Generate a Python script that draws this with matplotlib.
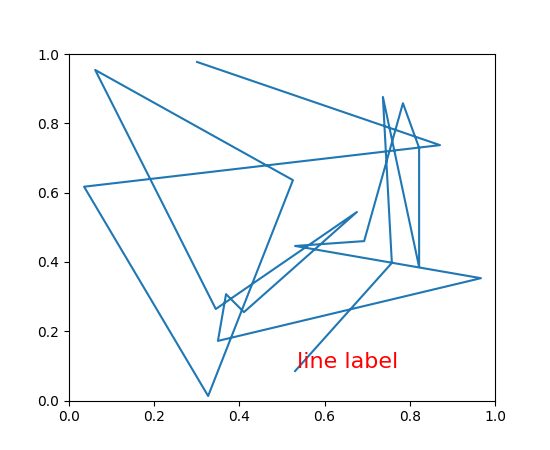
import matplotlib
matplotlib.use('Agg')
import matplotlib.pyplot as plt

x = [0.301, 0.871, 0.036, 0.327, 0.526, 0.062, 0.345, 0.676, 0.411, 0.369,
     0.350, 0.967, 0.531, 0.693, 0.784, 0.822, 0.822, 0.737, 0.758, 0.531]
y = [0.977, 0.737, 0.617, 0.013, 0.636, 0.954, 0.264, 0.544, 0.255, 0.307,
     0.172, 0.353, 0.446, 0.460, 0.858, 0.729, 0.385, 0.876, 0.397, 0.085]
label = 'line label'
label_xy = (0.536, 0.093)

fig, ax = plt.subplots(figsize=(5.5, 4.5), dpi=100)
ax.plot(x, y)
ax.text(label_xy[0], label_xy[1], label, color='red', fontsize=16)
ax.set_xlim(0, 1)
ax.set_ylim(0, 1)
fig.savefig('out.png')
